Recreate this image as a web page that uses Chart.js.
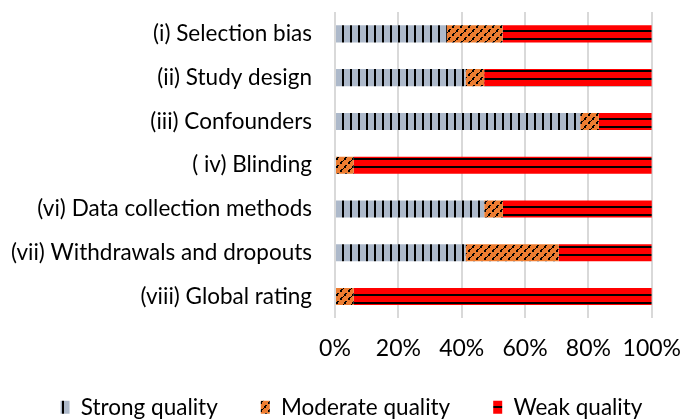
<!DOCTYPE html>
<html>
<head>
<meta charset="utf-8">
<script src="https://cdn.jsdelivr.net/npm/chart.js@4.4.1/dist/chart.umd.min.js"></script>
<style>
  html, body { margin: 0; padding: 0; background: #fff; }
  #wrap { width: 681px; height: 419px; }
</style>
</head>
<body>
<div id="wrap"><canvas id="qualityChart"></canvas></div>
<script>
'use strict'

// Quality domains (top to bottom)
var domains = [
  '(i) Selection bias',
  '(ii) Study design',
  '(iii) Confounders',
  '( iv) Blinding',
  '(vi) Data collection methods',
  '(vii) Withdrawals and dropouts',
  '(viii) Global rating'
];

// Share of studies per rating, in percent
var strongQuality   = [35.3, 41.2, 77.4, 0, 47.1, 41.2, 0];
var moderateQuality = [17.6, 5.9, 5.9, 5.9, 5.9, 29.4, 5.9];
var weakQuality     = [47.1, 52.9, 16.7, 94.1, 47.1, 29.4, 94.1];

var xTicks = [0, 20, 40, 60, 80, 100];

// Build a small repeating fill from a drawing callback
function makePattern(bg, draw) {
  var tile = document.createElement('canvas');
  tile.width = 8;
  tile.height = 8;
  var c = tile.getContext('2d');
  c.fillStyle = bg;
  c.fillRect(0, 0, 8, 8);
  c.fillStyle = '#000';
  draw(c);
  return c.createPattern(tile, 'repeat');
}

var ctx = document.getElementById('qualityChart').getContext('2d');

// vertical stripes
var strongFill = makePattern('#adb9ca', function(c) {
  c.fillRect(6, 0, 2, 8);
});

// dashed upward diagonal
var moderateFill = makePattern('#ed7d31', function(c) {
  c.fillRect(0, 6, 2, 2);
  c.fillRect(1, 5, 2, 1);
  c.fillRect(4, 2, 2, 2);
  c.fillRect(5, 1, 2, 1);
  c.fillRect(7, 0, 1, 1);
});

// horizontal stripes
var weakFill = makePattern('#ff0000', function(c) {
  c.fillRect(0, 6, 8, 2);
});

var font = "'Lato', 'DejaVu Sans', sans-serif";

// move the legend row a bit right and pull its top up
var legendShift = {
  id: 'legendShift',
  afterLayout: function(c) {
    c.legend.left += 11;
    c.legend.right += 11;
    c.legend.top -= 9;
  }
};

var chart = new Chart(ctx, {
  type: 'bar',
  data: {
    labels: domains,
    datasets: [{
      label: 'Strong quality',
      data: strongQuality,
      backgroundColor: strongFill,
      borderWidth: 0
    },
    {
      label: 'Moderate quality',
      data: moderateQuality,
      backgroundColor: moderateFill,
      borderWidth: 0
    },
    {
      label: 'Weak quality',
      data: weakQuality,
      backgroundColor: weakFill,
      borderWidth: 0
    }]
  },
  plugins: [legendShift],
  options: {
    indexAxis: 'y',
    responsive: true,
    maintainAspectRatio: false,
    animation: false,
    barPercentage: 0.39,
    categoryPercentage: 1,
    layout: {
      padding: { top: 12, right: 0, bottom: 0, left: 0 }
    },
    scales: {
      x: {
        stacked: true,
        min: 0,
        max: 100,
        afterBuildTicks: function(scale) {
          scale.ticks = xTicks.map(function(v) { return { value: v }; });
        },
        grid: {
          color: '#d9d9d9',
          lineWidth: 2,
          drawTicks: true,
          tickLength: 16,
          tickColor: 'rgba(0,0,0,0)'
        },
        border: { display: false },
        ticks: {
          padding: 0,
          color: '#000',
          font: { family: font, size: 23 },
          callback: function(v) { return v + '%'; }
        }
      },
      y: {
        stacked: true,
        afterFit: function(scale) { scale.width = 335; },
        grid: {
          drawOnChartArea: false,
          drawTicks: true,
          tickLength: 23,
          tickColor: 'rgba(0,0,0,0)'
        },
        border: { display: false },
        ticks: {
          padding: 0,
          color: '#000',
          font: { family: font, size: 22.5, lineHeight: 1 }
        }
      }
    },
    plugins: {
      tooltip: { enabled: false },
      legend: {
        position: 'bottom',
        maxHeight: 57,
        labels: {
          boxWidth: 9,
          boxHeight: 13,
          padding: 43,
          color: '#000',
          font: { family: font, size: 22.5 }
        }
      }
    }
  }
});
</script>
</body>
</html>
